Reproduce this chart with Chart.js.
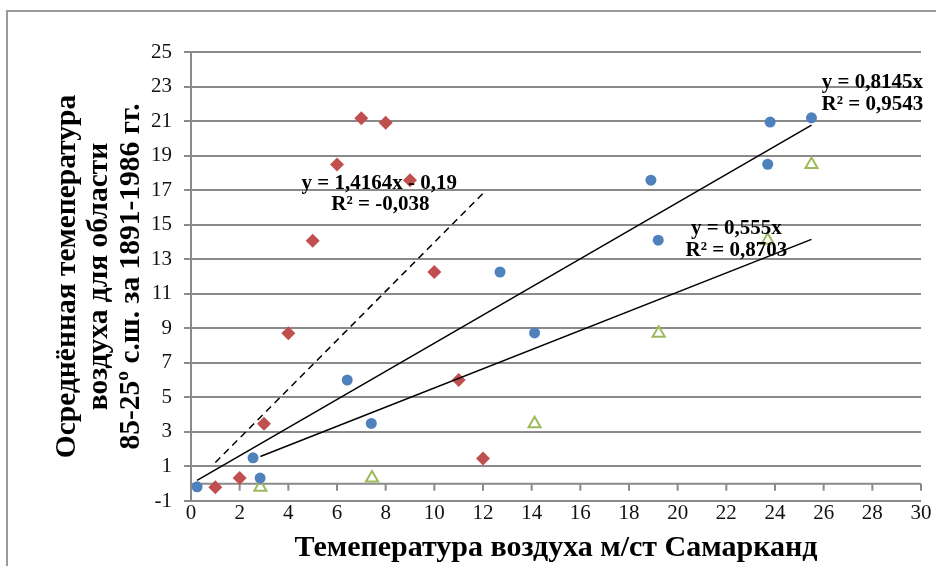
<!DOCTYPE html>
<html lang="ru">
<head>
<meta charset="utf-8">
<title>Температура воздуха</title>
<script src="https://cdn.jsdelivr.net/npm/chart.js@4.4.1/dist/chart.umd.min.js"></script>
<style>
  html, body { margin: 0; padding: 0; background: #fff; overflow: hidden; }
  #wrap { width: 936px; height: 566px; }
</style>
</head>
<body>
<div id="wrap"><canvas id="tempChart" width="936" height="566"></canvas></div>
<script>
// =================== DATA ===================
const blueX = [0.25, 2.55, 2.84, 6.42, 7.41, 12.7, 14.12, 18.9, 19.2, 23.7, 23.8, 25.5];
const blueY = [-0.18, 1.5, 0.33, 6.0, 3.49, 12.26, 8.73, 17.58, 14.1, 18.5, 20.94, 21.19];

const redX = [1, 2, 3, 4, 5, 6, 7, 8, 9, 10, 11, 12];
const redY = [-0.2, 0.33, 3.47, 8.72, 14.07, 18.49, 21.17, 20.9, 17.58, 12.26, 6.0, 1.46];

const greenX = [2.85, 7.44, 14.12, 19.22, 23.7, 25.5];
const greenY = [-0.2, 0.33, 3.47, 8.72, 14.1, 18.49];

// trend lines, end points
const redTrendX = [1, 12.05];
const redTrendY = [1.23, 16.88];
const blueTrendX = [0.25, 25.5];
const blueTrendY = [0.2, 20.77];
const greenTrendX = [2.85, 25.5];
const greenTrendY = [1.58, 14.15];

const trendTexts = ['y = 1,4164x - 0,19', 'R² = -0,038', 'y = 0,8145x', 'R² = 0,9543', 'y = 0,555x', 'R² = 0,8703'];

const xTickLabels = [0, 2, 4, 6, 8, 10, 12, 14, 16, 18, 20, 22, 24, 26, 28, 30];
const yTickLabels = [-1, 1, 3, 5, 7, 9, 11, 13, 15, 17, 19, 21, 23, 25];

const xTitle = 'Темепература воздуха м/ст Самарканд';
const yTitle = ['Осреднённая темепература', 'воздуха для области', '85-25º с.ш. за 1891-1986 гг.'];

// =================== STYLE ===================
const serif = "'Liberation Serif', 'Times New Roman', serif";
const gridColor = '#8a8a8a';
// where the equations sit, in data units
const trendTextPos = [[7.74, 17.4], [7.78, 16.14], [28.0, 23.25], [28.0, 21.98], [22.41, 14.75], [22.41, 13.48]];

const pts = (xs, ys) => xs.map((x, i) => ({ x: x, y: ys[i] }));

// =================== PLUGINS ===================
const frame = {
  id: 'frame',
  beforeDraw(chart) {
    const ctx = chart.ctx;
    ctx.save();
    ctx.strokeStyle = '#9a9a9a';
    ctx.lineWidth = 2;
    ctx.strokeRect(7, 11, 2000, 2000);
    ctx.restore();
  }
};

// horizontal axis crosses at y = 0
const zeroAxis = {
  id: 'zeroAxis',
  beforeDatasetsDraw(chart) {
    const { ctx, scales: { x, y } } = chart;
    const y0 = y.getPixelForValue(0);
    ctx.save();
    ctx.strokeStyle = gridColor;
    ctx.lineWidth = 2;
    ctx.beginPath();
    ctx.moveTo(x.left, y0);
    ctx.lineTo(x.right, y0);
    x.ticks.forEach(t => {
      const px = x.getPixelForValue(t.value);
      ctx.moveTo(px, y0);
      ctx.lineTo(px, y0 + 7);
    });
    ctx.stroke();
    ctx.restore();
  }
};

const trendLabels = {
  id: 'trendLabels',
  afterDatasetsDraw(chart) {
    const { ctx, scales: { x, y } } = chart;
    ctx.save();
    ctx.font = 'bold 21px ' + serif;
    ctx.fillStyle = '#000';
    ctx.textAlign = 'center';
    ctx.textBaseline = 'middle';
    trendTexts.forEach((t, i) => {
      const p = trendTextPos[i];
      ctx.fillText(t, x.getPixelForValue(p[0]), y.getPixelForValue(p[1]));
    });
    ctx.restore();
  }
};

// =================== CHART ===================
const ctx = document.getElementById('tempChart');

new Chart(ctx, {
  type: 'scatter',
  data: {
    datasets: [
      { data: pts(redTrendX, redTrendY), showLine: true, borderColor: '#000', borderWidth: 1.5, borderDash: [7, 5], pointRadius: 0, order: 0 },
      { data: pts(blueTrendX, blueTrendY), showLine: true, borderColor: '#000', borderWidth: 1.5, pointRadius: 0, order: 0 },
      { data: pts(greenTrendX, greenTrendY), showLine: true, borderColor: '#000', borderWidth: 1.5, pointRadius: 0, order: 0 },
      { data: pts(blueX, blueY), pointStyle: 'circle', pointRadius: 5.5, backgroundColor: '#4f81bd', borderColor: '#4f81bd', borderWidth: 0, order: 1 },
      { data: pts(redX, redY), pointStyle: 'rectRot', pointRadius: 7, backgroundColor: '#c0504d', borderColor: '#c0504d', borderWidth: 0, order: 1 },
      { data: pts(greenX, greenY), pointStyle: 'triangle', pointRadius: 7, backgroundColor: 'rgba(0,0,0,0)', borderColor: '#9bbb59', borderWidth: 2, order: 1 }
    ]
  },
  options: {
    responsive: false,
    animation: false,
    layout: { padding: { left: 0, right: 15, top: 52, bottom: 0 } },
    plugins: {
      legend: { display: false },
      tooltip: { enabled: false }
    },
    scales: {
      x: {
        type: 'linear',
        min: xTickLabels[0],
        max: xTickLabels[xTickLabels.length - 1],
        afterBuildTicks: s => { s.ticks = xTickLabels.map(v => ({ value: v })); },
        afterFit: s => { s.height = 65; },
        grid: { display: false, drawTicks: false },
        border: { display: false },
        ticks: { color: '#111', font: { family: serif, size: 21 }, padding: 0, maxRotation: 0, autoSkip: false },
        title: {
          display: true, text: xTitle, color: '#000',
          font: { family: serif, size: 30, weight: 'bold', lineHeight: 1.2 },
          padding: { top: 0, bottom: 0 }
        }
      },
      y: {
        type: 'linear',
        min: yTickLabels[0],
        max: yTickLabels[yTickLabels.length - 1],
        afterBuildTicks: s => { s.ticks = yTickLabels.map(v => ({ value: v })); },
        afterFit: s => { s.width = 191; },
        grid: { color: gridColor, lineWidth: 2, tickLength: 7 },
        border: { color: gridColor, width: 2 },
        ticks: { color: '#111', font: { family: serif, size: 21 }, padding: 12 },
        title: {
          display: true, text: yTitle, color: '#000',
          font: { family: serif, size: 29.5, weight: 'bold', lineHeight: 1.07 },
          padding: { top: 52, bottom: 0 }
        }
      }
    }
  },
  plugins: [frame, zeroAxis, trendLabels]
});
</script>
</body>
</html>
